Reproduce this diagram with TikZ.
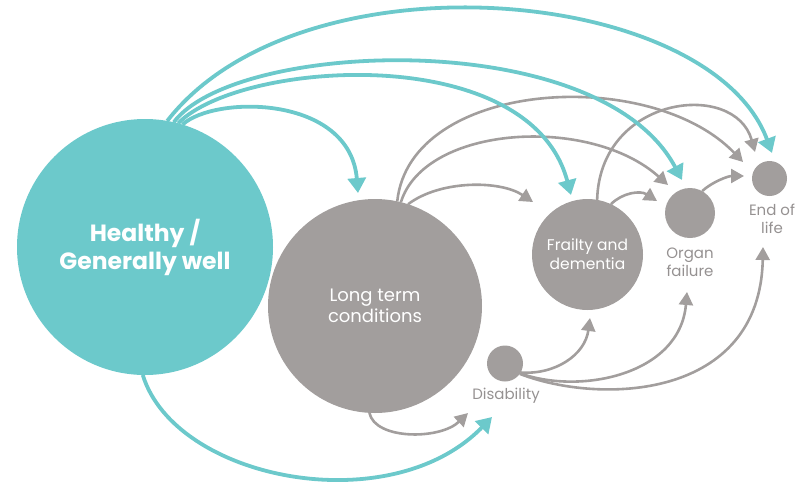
\documentclass[tikz,border=0pt]{standalone}
\usepackage{fontspec}
\setmainfont{Poppins}
\usetikzlibrary{arrows.meta}
\definecolor{hteal}{HTML}{6CC9CB}
\definecolor{hgrey}{HTML}{A29E9D}
\definecolor{hlabel}{HTML}{959191}
\begin{document}
\begin{tikzpicture}[x=1pt,y=-1pt,
  blob/.style={circle, inner sep=0pt, outer sep=0pt, minimum size=#1},
  tealblob/.style={blob=#1, fill=hteal},
  greyblob/.style={blob=#1, fill=hgrey},
  tealflow/.style={draw=hteal, line width=3.8pt, -{Triangle[length=15pt,width=18pt]}},
  greyflow/.style={draw=hgrey, line width=2.6pt, -{Triangle[length=13pt,width=14pt]}},
  intext/.style={text=white, align=center},
  outtext/.style={text=hlabel, align=center, font=\fontsize{15}{18}\selectfont},
]
\useasboundingbox (0,0) rectangle (806,488);

% stages
\node[tealblob=256pt, intext, font=\fontsize{23.5}{28}\selectfont\bfseries] (hw) at (145,247) {Healthy /\\Generally well};
\node[greyblob=214pt, intext, font=\fontsize{18}{21}\selectfont] (lt) at (375,306) {Long term\\conditions};
\node[greyblob=111pt, intext, font=\fontsize{15.5}{19}\selectfont] (fd) at (587.5,254.5) {Frailty and\\dementia};
\node[greyblob=50pt] (of) at (690,213) {};
\node[greyblob=35pt] (el) at (769.5,178.5) {};
\node[greyblob=36pt] (ds) at (505,363.5) {};

% labels beside the small stages
\node[outtext] (oflabel) at (690,262) {Organ\\failure};
\node[outtext] (ellabel) at (772,219) {End of\\life};
\node[outtext] (dslabel) at (506,396) {Disability};

% grey transitions
\draw[greyflow] (lt.78) .. controls (410,80) and (650,65) .. ([shift={(-26.5,-16.5)}]el.center);
\draw[greyflow] (lt.76) .. controls (425,125) and (590,115) .. ([shift={(-22,-28)}]of.center);
\draw[greyflow] (lt.72) .. controls (440,180) and (500,180) .. ([shift={(-54.5,-52.5)}]fd.center);
\draw[greyflow] (fd.80) .. controls (600,95) and (735,80) .. ([shift={(-14.5,-26.5)}]el.center);
\draw[greyflow] (fd.65) .. controls (622,193) and (640,190) .. ([shift={(-33,-12)}]of.center);
\draw[greyflow] (of.61) .. controls (712,182) and (728,176) .. ([shift={(-25.5,-2.5)}]el.center);
\draw[greyflow] (lt.267) .. controls (375,440) and (440,440) .. ([shift={(-37,49.5)}]ds.center);
\draw[greyflow] (ds.-30) .. controls (555,375) and (585,355) .. ([shift={(2.5,63.5)}]fd.center);
\draw[greyflow] (ds.-33) .. controls (580,395) and (680,375) .. ([shift={(-3,79)}]of.center);
\draw[greyflow] (ds.-35) .. controls (600,405) and (760,400) .. ([shift={(-6.5,68.5)}]el.center);

% teal transitions out of good health
\draw[tealflow] (hw.73) .. controls (215,95) and (350,95) .. ([shift={(-17,-113)}]lt.center);
\draw[tealflow] (hw.75) .. controls (240,60) and (530,40) .. ([shift={(-16.5,-59.5)}]fd.center);
\draw[tealflow] (hw.77) .. controls (235,40) and (600,25) .. ([shift={(-8,-33)}]of.center);
\draw[tealflow] (hw.80) .. controls (300,-50) and (710,-15) .. ([shift={(2.5,-25.5)}]el.center);
\draw[tealflow] (hw.269) .. controls (175,480) and (390,522) .. ([shift={(-13,53.5)}]ds.center);
\end{tikzpicture}
\end{document}
